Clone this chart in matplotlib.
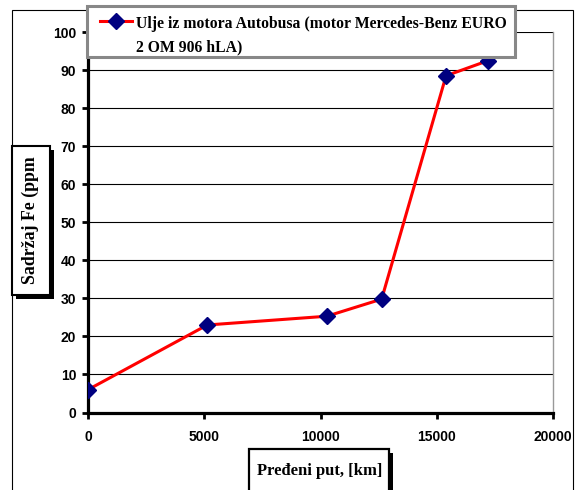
import matplotlib.pyplot as plt
from matplotlib.patches import Rectangle
from matplotlib.lines import Line2D

# podaci procitani sa grafika
put_km = [0, 5130, 10270, 12630, 15400, 17220]
fe_ppm = [6.0, 23.0, 25.3, 29.8, 88.5, 92.5]
x_ticks = [0, 5000, 10000, 15000, 20000]
y_ticks = list(range(0, 101, 10))
legend_text = 'Ulje iz motora Autobusa (motor Mercedes-Benz EURO\n2 OM 906 hLA)'
y_label = 'Sadržaj Fe (ppm'
x_label = 'Pređeni put, [km]'

W, H = 577, 490


def fx(x):
    return x / W


def fy(y):
    return 1 - y / H


fig = plt.figure(figsize=(W / 100, H / 100), dpi=100)
serif = 'Liberation Serif'
sans = 'Liberation Sans'

# spoljni okvir
fig.patches.append(Rectangle((fx(12), fy(500)), fx(573) - fx(12), fy(10) - fy(500),
                             transform=fig.transFigure, fill=False, ec='black', lw=0.8))

ax = fig.add_axes([fx(88), fy(412.5), fx(553) - fx(88), fy(32) - fy(412.5)])
ax.plot(put_km, fe_ppm, color='#ff0000', lw=2.2, marker='D', ms=8,
        mfc='#000080', mec='#000080', zorder=3)

ax.set_xlim(0, 20000)
ax.set_ylim(0, 100)
ax.set_xticks(x_ticks)
ax.set_yticks(y_ticks)
ax.grid(axis='y', color='black', lw=0.8)
ax.set_axisbelow(True)
ax.spines['top'].set_visible(False)
ax.spines['right'].set_color('#999999')
ax.spines['right'].set_linewidth(1)
ax.spines['left'].set_linewidth(2.3)
ax.spines['bottom'].set_linewidth(2.3)
ax.tick_params(direction='out', length=4.5, width=2, color='black')
ax.tick_params(axis='x', pad=8)
ax.tick_params(axis='y', pad=4)
for lab in ax.get_xticklabels() + ax.get_yticklabels():
    lab.set_fontfamily(sans)
    lab.set_fontweight('bold')
    lab.set_fontsize(10)

# legenda (rucno, sa sivim okvirom)
fig.patches.append(Rectangle((fx(89), fy(59)), fx(517) - fx(89), fy(8) - fy(59),
                             transform=fig.transFigure, fc='#808080', ec='none', zorder=5))
fig.patches.append(Rectangle((fx(87), fy(57)), fx(515) - fx(87), fy(6) - fy(57),
                             transform=fig.transFigure, fc='white', ec='#888888', lw=2.2, zorder=6))
fig.add_artist(Line2D([fx(100), fx(132)], [fy(21), fy(21)], transform=fig.transFigure,
                      color='#ff0000', lw=2.2, zorder=7))
fig.add_artist(Line2D([fx(116)], [fy(21)], transform=fig.transFigure, marker='D', ms=8,
                      mfc='#000080', mec='#000080', zorder=8))
for line, base in zip(legend_text.split('\n'), [28, 51]):
    fig.text(fx(136), fy(base), line, family=serif, weight='bold', fontsize=11.3,
             va='baseline', ha='left', zorder=8)

# oznaka y ose u okviru sa senkom
fig.patches.append(Rectangle((fx(16), fy(299)), fx(54) - fx(16), fy(150) - fy(299),
                             transform=fig.transFigure, fc='black', ec='none'))
fig.patches.append(Rectangle((fx(12), fy(295)), fx(50) - fx(12), fy(146) - fy(295),
                             transform=fig.transFigure, fc='white', ec='black', lw=1.5))
fig.text(fx(30), fy(220), y_label, family=serif, weight='bold', fontsize=12.8,
         rotation=90, ha='center', va='center')

# oznaka x ose u okviru sa senkom
fig.patches.append(Rectangle((fx(253), fy(500)), fx(393) - fx(253), fy(453) - fy(500),
                             transform=fig.transFigure, fc='black', ec='none'))
fig.patches.append(Rectangle((fx(249), fy(500)), fx(389) - fx(249), fy(449) - fy(500),
                             transform=fig.transFigure, fc='white', ec='black', lw=1.6))
fig.text(fx(320), fy(471), x_label, family=serif, weight='bold', fontsize=12,
         ha='center', va='center')

fig.savefig('out.png', dpi=100)
